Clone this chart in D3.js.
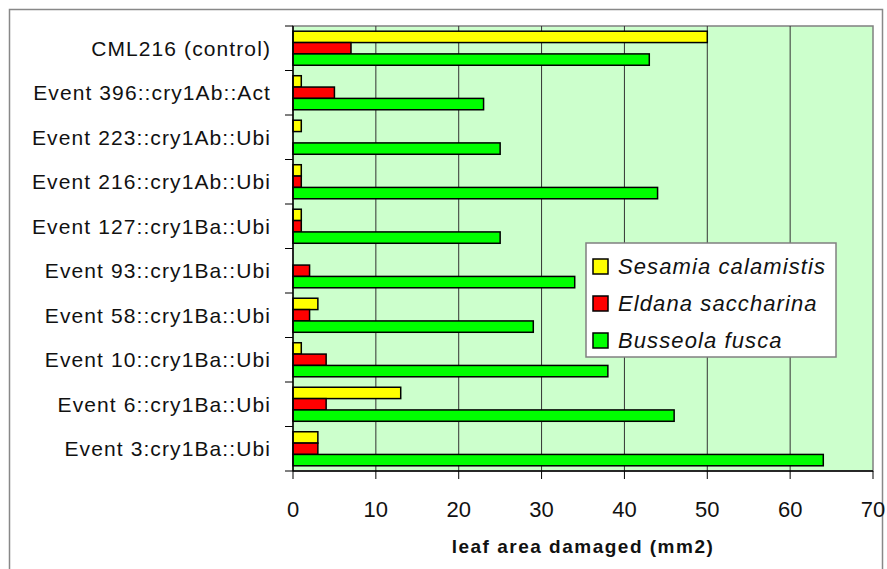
<!DOCTYPE html>
<html>
<head>
<meta charset="utf-8">
<script src="https://cdn.jsdelivr.net/npm/d3@7"></script>
<style>
body { margin: 0; background: #fff; }
svg { display: block; font-family: Arial, "Liberation Sans", sans-serif; }
</style>
</head>
<body>
<svg id="chart"></svg>
<script>
var width = 887, height = 569

var events = ["CML216 (control)", "Event 396::cry1Ab::Act", "Event 223::cry1Ab::Ubi",
    "Event 216::cry1Ab::Ubi", "Event 127::cry1Ba::Ubi", "Event 93::cry1Ba::Ubi",
    "Event 58::cry1Ba::Ubi", "Event 10::cry1Ba::Ubi", "Event 6::cry1Ba::Ubi",
    "Event 3:cry1Ba::Ubi"]
var species = ["Sesamia calamistis", "Eldana saccharina", "Busseola fusca"]
var colours = ["#ffff00", "#ff0000", "#00ff00"]
var sesamia = [50, 1, 1, 1, 1, 0, 3, 1, 13, 3]
var eldana = [7, 5, 0, 1, 1, 2, 2, 4, 4, 3]
var busseola = [43, 23, 25, 44, 25, 34, 29, 38, 46, 64]
var xTicks = [0, 10, 20, 30, 40, 50, 60, 70]

var series = [sesamia, eldana, busseola]

var svg = d3.select("#chart")
    .attr("width", width)
    .attr("height", height)

// outer chart frame
svg.append("rect")
    .attr("x", 9.5).attr("y", 9.5)
    .attr("width", 873).attr("height", 570)
    .attr("fill", "none")
    .attr("stroke", "#888")
    .attr("stroke-width", 1.5)

var plotLeft = 293, plotRight = 873, plotTop = 26, plotBottom = 471

var x = d3.scaleLinear().domain([0, 70]).range([plotLeft, plotRight])
var y = d3.scaleBand().domain(events).range([plotTop, plotBottom]).paddingInner(0.235).paddingOuter(0.117)
var ySub = d3.scaleBand().domain(d3.range(3)).range([0, y.bandwidth()])

svg.append("rect")
    .attr("x", plotLeft).attr("y", plotTop)
    .attr("width", plotRight - plotLeft).attr("height", plotBottom - plotTop)
    .attr("fill", "#ccffcc")
    .attr("stroke", "#808080")
    .attr("stroke-width", 1.5)

svg.append("g")
    .selectAll("line")
    .data(xTicks.slice(1, -1))
    .enter().append("line")
        .attr("x1", d => x(d)).attr("x2", d => x(d))
        .attr("y1", plotTop).attr("y2", plotBottom)
        .attr("stroke", "#333")
        .attr("stroke-width", 1)

var groups = svg.append("g")
    .selectAll("g")
    .data(events)
    .enter().append("g")
        .attr("transform", d => "translate(0," + y(d) + ")")

groups.selectAll("rect")
    .data((d, i) => series.map((s, j) => ({ v: s[i], j: j })))
    .enter().append("rect")
        .attr("x", x(0))
        .attr("y", d => ySub(d.j))
        .attr("width", d => x(d.v) - x(0))
        .attr("height", ySub.bandwidth())
        .attr("fill", d => colours[d.j])
        .attr("stroke", "#000")
        .attr("stroke-width", d => d.v > 0 ? 1.5 : 0)

// y axis: ticks between categories
var bandStep = (plotBottom - plotTop) / events.length
var yAxis = svg.append("g")
yAxis.append("line")
    .attr("x1", plotLeft).attr("x2", plotLeft)
    .attr("y1", plotTop).attr("y2", plotBottom)
    .attr("stroke", "#000").attr("stroke-width", 1.5)
yAxis.selectAll("line.tick")
    .data(d3.range(events.length + 1))
    .enter().append("line")
        .attr("class", "tick")
        .attr("x1", plotLeft - 8).attr("x2", plotLeft)
        .attr("y1", d => plotTop + d * bandStep).attr("y2", d => plotTop + d * bandStep)
        .attr("stroke", "#000")
yAxis.selectAll("text")
    .data(events)
    .enter().append("text")
        .attr("x", 271)
        .attr("y", d => y(d) + y.bandwidth() / 2)
        .attr("dy", "0.36em")
        .attr("text-anchor", "end")
        .attr("font-size", 21)
        .attr("letter-spacing", 1.1)
        .attr("fill", "#111")
        .text(d => d)

// x axis
var xAxis = svg.append("g")
xAxis.append("line")
    .attr("x1", plotLeft).attr("x2", plotRight)
    .attr("y1", plotBottom).attr("y2", plotBottom)
    .attr("stroke", "#000").attr("stroke-width", 1.5)
xAxis.selectAll("line.tick")
    .data(xTicks)
    .enter().append("line")
        .attr("class", "tick")
        .attr("x1", d => x(d)).attr("x2", d => x(d))
        .attr("y1", plotBottom).attr("y2", plotBottom + 8)
        .attr("stroke", "#000")
xAxis.selectAll("text")
    .data(xTicks)
    .enter().append("text")
        .attr("x", d => x(d))
        .attr("y", 517)
        .attr("text-anchor", "middle")
        .attr("font-size", 22)
        .attr("fill", "#111")
        .text(d => d)

svg.append("text")
    .attr("x", 583)
    .attr("y", 553)
    .attr("text-anchor", "middle")
    .attr("font-size", 19)
    .attr("font-weight", "bold")
    .attr("letter-spacing", 1.5)
    .attr("fill", "#111")
    .text("leaf area damaged (mm2)")

// legend
var legend = svg.append("g").attr("transform", "translate(586,243)")
legend.append("rect")
    .attr("width", 250).attr("height", 114)
    .attr("fill", "#fff")
    .attr("stroke", "#808080")
    .attr("stroke-width", 1.5)
var items = legend.selectAll("g")
    .data(species)
    .enter().append("g")
        .attr("transform", (d, i) => "translate(0," + (23 + i * 37) + ")")
items.append("rect")
    .attr("x", 7).attr("y", -7)
    .attr("width", 15).attr("height", 15)
    .attr("fill", (d, i) => colours[i])
    .attr("stroke", "#000")
    .attr("stroke-width", 1.5)
items.append("text")
    .attr("x", 32)
    .attr("dy", "0.36em")
    .attr("font-size", 22)
    .attr("font-style", "italic")
    .attr("letter-spacing", 1.1)
    .attr("fill", "#111")
    .text(d => d)
</script>
</body>
</html>
